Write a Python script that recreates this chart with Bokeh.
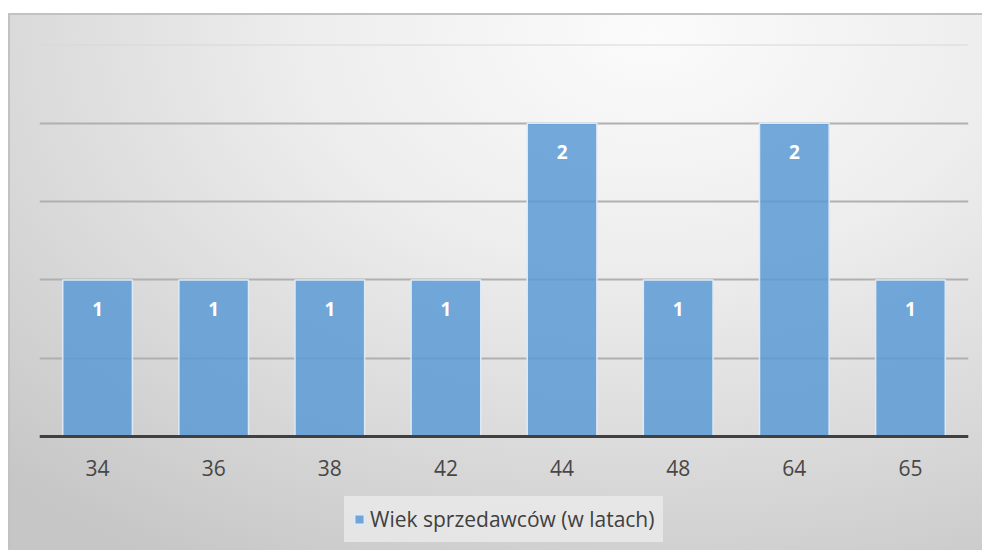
from bokeh.plotting import figure
from bokeh.models import (ColumnDataSource, LabelSet, Legend, LegendItem, Spacer,
                          SingleIntervalTicker, Grid)
from bokeh.layouts import column, row
from bokeh.core.properties import value
from bokeh.embed import file_html
from bokeh.resources import INLINE

ages = ["34", "36", "38", "42", "44", "48", "64", "65"]
counts = [1, 1, 1, 1, 2, 1, 2, 1]
series_name = "Wiek sprzedawców (w latach)"

src = ColumnDataSource(dict(age=ages, count=counts, txt=[str(c) for c in counts]))

# y range extends below zero so the category axis and legend sit inside the frame
p = figure(x_range=ages, y_range=(-0.727, 2.503), width=974, height=537,
           output_backend="svg", toolbar_location=None,
           min_border_left=31, min_border_right=14, min_border_top=31, min_border_bottom=0)

p.styles = {"background": "radial-gradient(ellipse 95% 115% at 66% 4%, #fbfbfb 0%, #ededed 38%, #d8d8d8 72%, #c6c6c6 100%)",
            "box-shadow": "inset 2px 2px 0 #c2c2c2"}
p.border_fill_color = None
p.background_fill_color = None
p.outline_line_color = None

p.yaxis.visible = False
p.ygrid.ticker = SingleIntervalTicker(interval=0.5)
p.ygrid.bounds = (0, 2.25)
p.ygrid.grid_line_color = "#b0b0b0"
p.ygrid.grid_line_width = 2
p.xgrid.grid_line_color = None
top_grid = Grid(dimension=1, ticker=SingleIntervalTicker(interval=0.5), bounds=(2.25, 2.5),
                grid_line_color="#d8d8d8", grid_line_width=2)
p.add_layout(top_grid)

r = p.vbar(x="age", top="count", width=0.6, source=src,
           fill_color="#5b9bd5", fill_alpha=0.85,
           line_color="#ddeaf6", line_width=1.5)

labels = LabelSet(x="age", y="count", text="txt", source=src,
                  text_align="center", text_baseline="middle", y_offset=-29,
                  text_color="white", text_font_style="bold",
                  text_font_size="19px", text_font=value("Open Sans"))
p.add_layout(labels)

p.xaxis.fixed_location = 0
p.xaxis.axis_line_color = "#404040"
p.xaxis.axis_line_width = 3
p.xaxis.major_tick_line_color = None
p.xaxis.minor_tick_line_color = None
p.xaxis.major_label_text_font = "Open Sans"
p.xaxis.major_label_text_font_size = "21px"
p.xaxis.major_label_text_color = "#474747"
p.xaxis.major_label_standoff = 17

legend = Legend(items=[LegendItem(label=series_name, renderers=[r])],
                location=(305, 8), orientation="horizontal",
                label_text_font="Open Sans", label_text_font_size="21px",
                label_text_color="#404040",
                glyph_width=12, glyph_height=12, label_standoff=5,
                padding=8, label_height=5, margin=0,
                background_fill_color="#ececec", background_fill_alpha=0.75,
                border_line_color="#e6e6e6", border_line_alpha=0.75, border_line_width=1)
p.add_layout(legend)

layout = row(Spacer(width=8, height=537), column(Spacer(width=974, height=13), p, spacing=0), spacing=0)

open("out.html", "w").write(file_html(layout, INLINE))
